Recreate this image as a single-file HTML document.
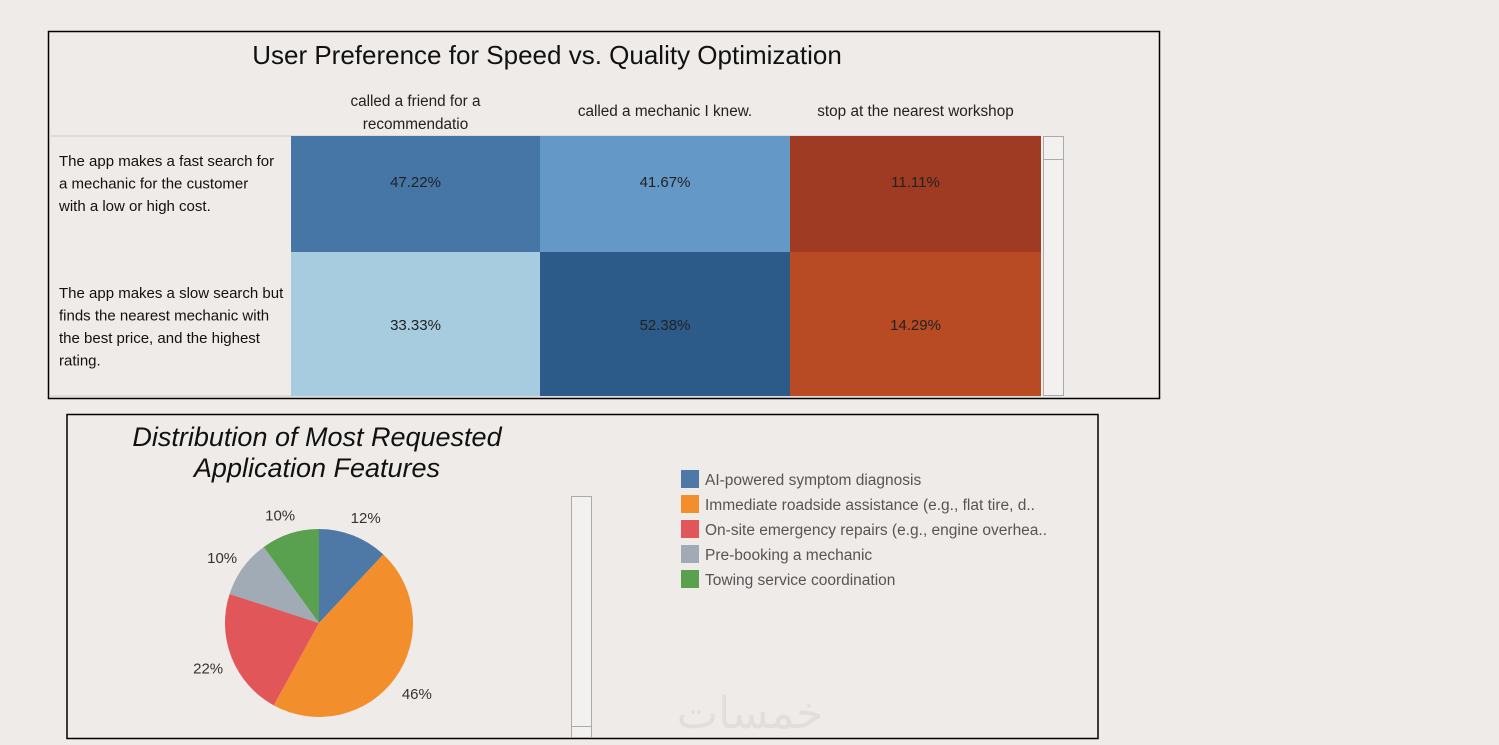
<!DOCTYPE html>
<html><head><meta charset="utf-8"><style>
body{margin:0;width:1499px;height:745px;background:#efebe8;font-family:"Liberation Sans",sans-serif;overflow:hidden}
svg{position:absolute;left:0;top:0}
</style></head><body>
<svg width="1499" height="745" font-family="Liberation Sans, sans-serif">
<g>
<rect x="48.5" y="31.5" width="1111" height="367" fill="none" stroke="#000" stroke-width="1.5"/>
<text x="547" y="64" text-anchor="middle" font-size="26" fill="#111">User Preference for Speed vs. Quality Optimization</text>
<line x1="49" y1="136" x2="1041" y2="136" stroke="#ccc"/>
<line x1="49" y1="396" x2="1041" y2="396" stroke="#ccc"/>
<g id="hm"></g>
<g>
<rect x="1043.5" y="136.5" width="20" height="259" fill="#f2f1f0" stroke="#aaa"/>
<line x1="1043" y1="159.5" x2="1063" y2="159.5" stroke="#aaa"/>
</g>
</g>
<g>
<rect x="67" y="414.5" width="1031" height="324" fill="none" stroke="#000" stroke-width="1.5"/>
<text x="317" y="446" text-anchor="middle" font-size="27" font-style="italic" fill="#111">Distribution of Most Requested</text>
<text x="317" y="477" text-anchor="middle" font-size="27" font-style="italic" fill="#111">Application Features</text>
<g id="pie"></g>
<g>
<rect x="571.5" y="496.5" width="20" height="241" fill="#f2f1f0" stroke="#aaa"/>
<line x1="571" y1="726.5" x2="591" y2="726.5" stroke="#aaa"/>
</g>
<g id="legend"></g>
<text x="750" y="728" text-anchor="middle" font-size="44" fill="#e2deda" font-family="Noto Sans CJK SC, sans-serif">خمسات</text>
</g>
</svg>
<script>
const rowLabels=[["The app makes a fast search for","a mechanic for the customer","with a low or high cost."],["The app makes a slow search but","finds the nearest mechanic with","the best price, and the highest","rating."]];
const colLabels=[["called a friend  for a","recommendatio"],["called a mechanic I knew."],["stop at the nearest workshop"]];
const row1Values=[47.22,41.67,11.11];
const row2Values=[33.33,52.38,14.29];
const cellColors=[["#4676a6","#6499c7","#9e3b22"],["#a7cbdf","#2c5b8a","#b84a24"]];
const pieCats=["AI-powered symptom diagnosis","Immediate roadside assistance (e.g., flat tire, d..","On-site emergency repairs (e.g., engine overhea..","Pre-booking a mechanic","Towing service coordination"];
const pieValues=[12,46,22,10,10];
const pieColors=["#4e79a7","#f28e2b","#e15759","#a0abb5","#59a14f"];
const NS="http://www.w3.org/2000/svg";
function mk(p,t,a){const e=document.createElementNS(NS,t);for(const k in a)e.setAttribute(k,a[k]);p.appendChild(e);return e;}
const hm=document.getElementById('hm');
const colX=[291,540,790,1041],rowY=[136,252,396];
const valY=[187,330];
const vals=[row1Values,row2Values];
colLabels.forEach((l,i)=>{const cx=(colX[i]+colX[i+1])/2;const n=l.length;l.forEach((s,j)=>{const t=mk(hm,'text',{x:cx,y:(n===1?116:106+j*23),'text-anchor':'middle','font-size':15.3,fill:'#222'});t.textContent=s;

});});
rowLabels.forEach((l,r)=>{const y0=r===0?166:298;l.forEach((s,j)=>{const t=mk(hm,'text',{x:59,y:y0+j*22.5,'font-size':15,fill:'#111'});t.textContent=s;

});});
vals.forEach((row,r)=>row.forEach((v,c)=>{const rc=mk(hm,'rect',{x:colX[c],y:rowY[r],width:colX[c+1]-colX[c],height:rowY[r+1]-rowY[r],fill:cellColors[r][c]});


const t=mk(hm,'text',{x:(colX[c]+colX[c+1])/2,y:valY[r],'text-anchor':'middle','font-size':15,fill:'#222'});t.textContent=v.toFixed(2)+'%';

}));
const pie=document.getElementById('pie');
const cx=319,cy=623,R=94;const tot=pieValues.reduce((a,b)=>a+b,0);let a0=0;
pieValues.forEach((v,i)=>{const a1=a0+v/tot*2*Math.PI;const p=a=>[cx+R*Math.sin(a),cy-R*Math.cos(a)];const [x0,y0]=p(a0),[x1,y1]=p(a1);
const s=mk(pie,'path',{d:`M${cx},${cy}L${x0},${y0}A${R},${R} 0 ${a1-a0>Math.PI?1:0} 1 ${x1},${y1}Z`,fill:pieColors[i]});


const am=(a0+a1)/2,lr=R+22;const t=mk(pie,'text',{x:cx+lr*Math.sin(am)+(Math.sin(am)>0?4:-3),y:cy-lr*Math.cos(am)+8,'text-anchor':'middle','font-size':15,fill:'#333'});t.textContent=Math.round(v/tot*100)+'%';


a0=a1;});
const lg=document.getElementById('legend');
pieCats.forEach((c,i)=>{const g=mk(lg,'g',{});


mk(g,'rect',{x:681,y:470+i*25,width:18,height:18,fill:pieColors[i]});const t=mk(g,'text',{x:705,y:485+i*25,'font-size':15.5,fill:'#555'});t.textContent=c;});
</script>
</body></html>
